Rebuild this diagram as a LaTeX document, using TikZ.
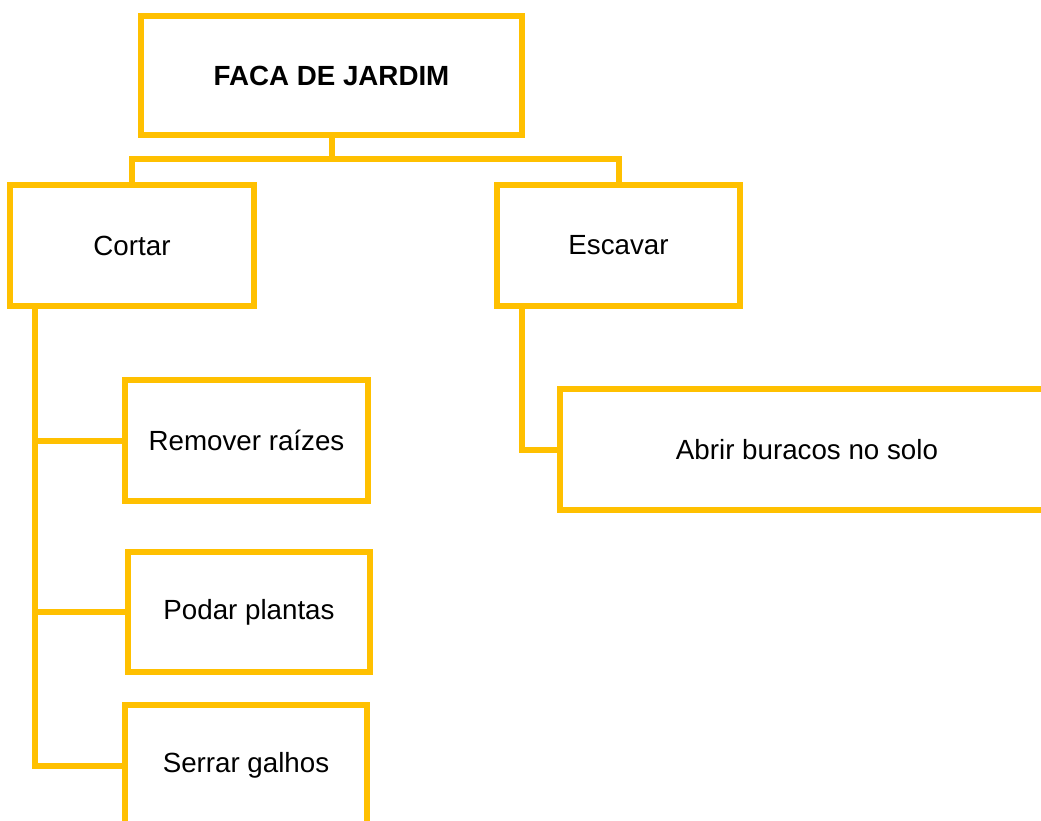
\documentclass[tikz,border=0pt]{standalone}
\usepackage{fontspec}
\setmainfont{Liberation Sans}
\definecolor{gold}{HTML}{FFC000}
\begin{document}
\begin{tikzpicture}[x=0.75pt,y=-0.75pt,
  box/.style={draw=gold, line width=4.5pt, fill=white, inner sep=0pt,
    font=\fontsize{20.8}{25}\selectfont, text=black},
  link/.style={draw=gold, line width=4.5pt}]
\useasboundingbox (0,0) rectangle (1041,820);
\clip (0,0) rectangle (1041,820);

% connectors (drawn first so the box borders cover their ends)
\coordinate (bus) at (331.5,159);
\coordinate (cstem) at (35,306);
\coordinate (estem) at (522,306);

% boxes
\node[box, minimum width=285.75pt, minimum height=89.25pt] (top) at (331.5,75.5) {\bfseries FACA DE JARDIM};
\node[box, minimum width=183pt, minimum height=90.75pt] (cortar) at (132,245.5) {Cortar};
\node[box, minimum width=182.25pt, minimum height=90.75pt] (escavar) at (618.5,245.5) {Escavar};
\node[box, minimum width=182.25pt, minimum height=90.75pt] (remover) at (246.5,440.5) {Remover raízes};
\node[box, minimum width=181.5pt, minimum height=90pt] (podar) at (249,612) {Podar plantas};
\node[box, minimum width=181.5pt, minimum height=90.75pt] (serrar) at (246,765.5) {Serrar galhos};
\node[box, minimum width=370.5pt, minimum height=90.75pt] (abrir) at (807,449.5) {Abrir buracos no solo};

\draw[link] (top.south) -- (bus);
\draw[link] (cortar.north) |- (bus) -| (escavar.north);
\draw[link] (cstem) |- (serrar.west);
\draw[link] (cstem) |- (remover.west);
\draw[link] (cstem) |- (podar.west);
\draw[link] (estem) |- (abrir.west);
\end{tikzpicture}
\end{document}
